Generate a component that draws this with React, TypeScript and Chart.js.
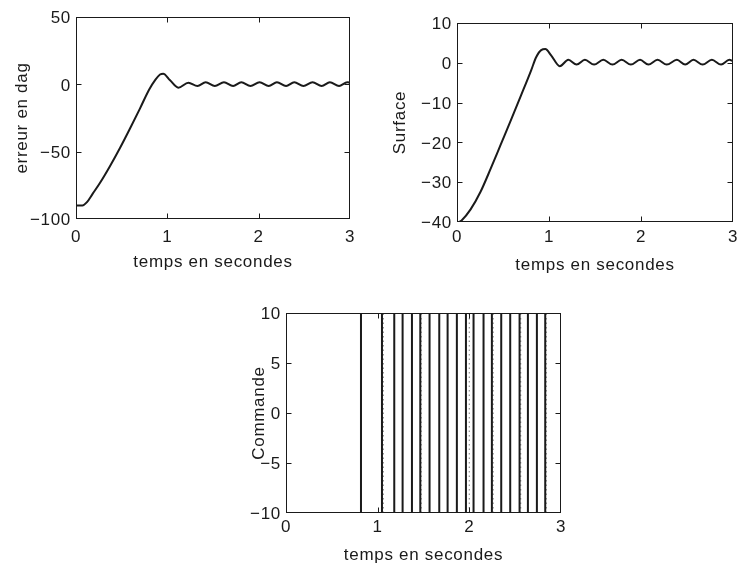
import React, { useEffect, useRef } from 'react';
import { Chart, registerables } from 'chart.js';

Chart.register(...registerables);

// ---------- data ----------
const errTime = [0, 0.07, 0.12, 0.18, 0.26, 0.37, 0.48, 0.59, 0.7, 0.8, 0.87, 0.92, 0.955, 1.03, 1.12,
  1.23, 1.33, 1.42, 1.52, 1.62, 1.72, 1.81, 1.91, 2.01, 2.11, 2.2, 2.3, 2.39, 2.49, 2.59, 2.69, 2.78, 2.88, 2.97, 3.0];
const errValues = [-90, -90, -87.5, -81.5, -73.5, -61, -47.5, -33, -18, -4, 3.5, 7.3, 7.9, 3, -2.5,
  1.2, -1.2, 1.6, -1.2, 1.6, -1.2, 1.6, -1.2, 1.6, -1.2, 1.6, -1.2, 1.6, -1.2, 1.6, -1.2, 1.6, -1.2, 1.6, 1.2];

const surfTime = [0, 0.05, 0.146, 0.256, 0.366, 0.476, 0.586, 0.696, 0.806, 0.86, 0.915, 0.96, 1.025, 1.117,
  1.21, 1.3, 1.39, 1.49, 1.59, 1.69, 1.79, 1.89, 1.99, 2.08, 2.18, 2.28, 2.39, 2.48, 2.57, 2.67, 2.77, 2.87, 2.96, 3.0];
const surfValues = [-40.3, -39.6, -36.9, -32.4, -26.6, -20.5, -14.4, -8.2, -1.9, 1.4, 3.2, 3.45, 1.8, -0.85,
  0.75, -0.45, 0.75, -0.45, 0.75, -0.45, 0.75, -0.45, 0.75, -0.45, 0.75, -0.45, 0.75, -0.45, 0.75, -0.45, 0.75, -0.45, 0.75, 0.4];

const cmdTime = [0, 0.818, 1.047, 1.181, 1.272, 1.374, 1.465, 1.566, 1.672, 1.763, 1.864, 1.963, 2.046,
  2.155, 2.246, 2.348, 2.446, 2.548, 2.639, 2.737, 2.828, 2.93, 3.0];
const cmdValues = [10, -10, 10, -10, 10, -10, 10, -10, 10, -10, 10, -10, 10,
  -10, 10, -10, 10, -10, 10, -10, 10, -10, -10];
// faint chattering traces next to some switches
const cmdChatterTimes = [1.062, 1.475, 2.0, 2.26, 2.56, 2.84];

const timeTicks = [0, 1, 2, 3];
const errTicks = [-100, -50, 0, 50];
const surfTicks = [-40, -30, -20, -10, 0, 10];
const cmdTicks = [-10, -5, 0, 5, 10];

const xTitle = 'temps en secondes';
const errTitle = 'erreur en dag';
const surfTitle = 'Surface';
const cmdTitle = 'Commande';

// ---------- style ----------
const FONT = 'Liberation Sans';
const FONT_SIZE = 17;
const INK = '#1a1a1a';

const spacingPlugin = {
  id: 'spacing',
  beforeDraw(chart: any) {
    chart.ctx.letterSpacing = '0.7px';
  },
  afterDraw(chart: any) {
    chart.ctx.letterSpacing = '0px';
  },
};

const boxPlugin = {
  id: 'matlabBox',
  afterDraw(chart: any) {
    const { ctx, chartArea: a } = chart;
    const x = chart.scales.x;
    const y = chart.scales.y;
    const L = Math.round(a.left) + 0.5;
    const R = Math.round(a.right) - 0.5;
    const T = Math.round(a.top) + 0.5;
    const B = Math.round(a.bottom) - 0.5;
    const clamp = (v: number, lo: number, hi: number) => Math.min(hi, Math.max(lo, v));
    const tl = 5;
    ctx.save();
    ctx.strokeStyle = INK;
    ctx.lineWidth = 1;
    ctx.strokeRect(L, T, R - L, B - T);
    ctx.beginPath();
    x.ticks.forEach((t: any) => {
      const px = clamp(Math.round(x.getPixelForValue(t.value)) + 0.5, L, R);
      ctx.moveTo(px, B);
      ctx.lineTo(px, B - tl);
      ctx.moveTo(px, T);
      ctx.lineTo(px, T + tl);
    });
    y.ticks.forEach((t: any) => {
      const py = clamp(Math.round(y.getPixelForValue(t.value)) + 0.5, T, B);
      ctx.moveTo(L, py);
      ctx.lineTo(L + tl, py);
      ctx.moveTo(R, py);
      ctx.lineTo(R - tl, py);
    });
    ctx.stroke();
    ctx.restore();
  },
};

const fmt = (v: any) => String(v).replace('-', '\u2212');

type Panel = {
  left: number; top: number; width: number; height: number;
  areaLeft: number; areaRight: number; areaTop: number; areaBottom: number;
  xs: number[]; ys: number[]; yTicks: number[]; yTitle: string;
  xTickPad: number; xTitlePad: number; yTitlePad: number;
  lw: number; stepped?: boolean; chatter?: number[];
};

const panels: Panel[] = [
  {
    left: 0, top: 0, width: 370, height: 285,
    areaLeft: 76, areaRight: 350, areaTop: 17, areaBottom: 219,
    xs: errTime, ys: errValues, yTicks: errTicks, yTitle: errTitle,
    xTickPad: 8, xTitlePad: 12.8, yTitlePad: 11.8, lw: 2,
  },
  {
    left: 375, top: 0, width: 362, height: 285,
    areaLeft: 457, areaRight: 733, areaTop: 23, areaBottom: 222,
    xs: surfTime, ys: surfValues, yTicks: surfTicks, yTitle: surfTitle,
    xTickPad: 5, xTitlePad: 9.4, yTitlePad: 14.8, lw: 2,
  },
  {
    left: 230, top: 290, width: 350, height: 282,
    areaLeft: 286, areaRight: 561, areaTop: 313, areaBottom: 513,
    xs: cmdTime, ys: cmdValues, yTicks: cmdTicks, yTitle: cmdTitle,
    xTickPad: 4.5, xTitlePad: 6.8, yTitlePad: 18.8, lw: 2, stepped: true, chatter: cmdChatterTimes,
  },
];

function makeConfig(p: Panel): any {
  const yAxisWidth = p.areaLeft - p.left;
  const xAxisHeight = p.top + p.height - p.areaBottom;
  const font = { family: FONT, size: FONT_SIZE };
  const yMin = p.yTicks[0];
  const yMax = p.yTicks[p.yTicks.length - 1];
  const datasets: any[] = [
    {
      data: p.xs.map((x, i) => ({ x, y: p.ys[i] })),
      borderColor: INK,
      borderWidth: p.lw,
      pointRadius: 0,
      fill: false,
      cubicInterpolationMode: p.stepped ? 'default' : 'monotone',
      stepped: p.stepped ? 'after' : false,
    },
  ];
  if (p.chatter) {
    datasets.push({
      data: p.chatter.flatMap((t) => [
        { x: t, y: yMin },
        { x: t, y: yMax },
        { x: t, y: null },
      ]),
      borderColor: 'rgba(60,60,60,0.55)',
      borderWidth: 1.2,
      borderDash: [1.5, 3],
      pointRadius: 0,
      fill: false,
      spanGaps: false,
    });
  }
  return {
    type: 'line',
    data: { datasets },
    options: {
      responsive: false,
      animation: false,
      devicePixelRatio: 1,
      layout: {
        padding: {
          left: 0,
          top: p.areaTop - p.top,
          right: p.left + p.width - p.areaRight,
          bottom: 0,
        },
      },
      plugins: { legend: { display: false }, tooltip: { enabled: false } },
      scales: {
        x: {
          type: 'linear',
          position: 'bottom',
          min: timeTicks[0],
          max: timeTicks[timeTicks.length - 1],
          grid: { display: false, drawTicks: false },
          border: { display: false },
          afterBuildTicks: (s: any) => { s.ticks = timeTicks.map((v) => ({ value: v })); },
          ticks: { font, color: INK, padding: p.xTickPad, maxRotation: 0, autoSkip: false, callback: fmt },
          title: { display: true, text: xTitle, font, color: INK, padding: { top: 0, bottom: p.xTitlePad } },
          afterFit: (s: any) => { s.height = xAxisHeight; s.paddingLeft = 0; s.paddingRight = 0; },
        },
        y: {
          type: 'linear',
          min: yMin,
          max: yMax,
          grid: { display: false, drawTicks: false },
          border: { display: false },
          afterBuildTicks: (s: any) => { s.ticks = p.yTicks.map((v) => ({ value: v })); },
          ticks: { font, color: INK, padding: 5, labelOffset: 1.5, autoSkip: false, callback: fmt },
          title: { display: true, text: p.yTitle, font, color: INK, padding: { top: p.yTitlePad, bottom: 0 } },
          afterFit: (s: any) => { s.width = yAxisWidth; s.paddingTop = 0; s.paddingBottom = 0; },
        },
      },
    },
    plugins: [spacingPlugin, boxPlugin],
  };
}

function PanelChart({ p }: { p: Panel }) {
  const ref = useRef<HTMLCanvasElement | null>(null);
  useEffect(() => {
    if (!ref.current) return;
    const chart = new Chart(ref.current, makeConfig(p));
    return () => chart.destroy();
  }, [p]);
  return (
    <canvas
      ref={ref}
      width={p.width}
      height={p.height}
      style={{ position: 'absolute', left: p.left, top: p.top, width: p.width, height: p.height }}
    />
  );
}

export default function App() {
  return (
    <div style={{ position: 'absolute', left: 0, top: 0, width: 737, height: 572, background: '#fff', overflow: 'hidden' }}>
      {panels.map((p, i) => (
        <PanelChart key={i} p={p} />
      ))}
    </div>
  );
}
